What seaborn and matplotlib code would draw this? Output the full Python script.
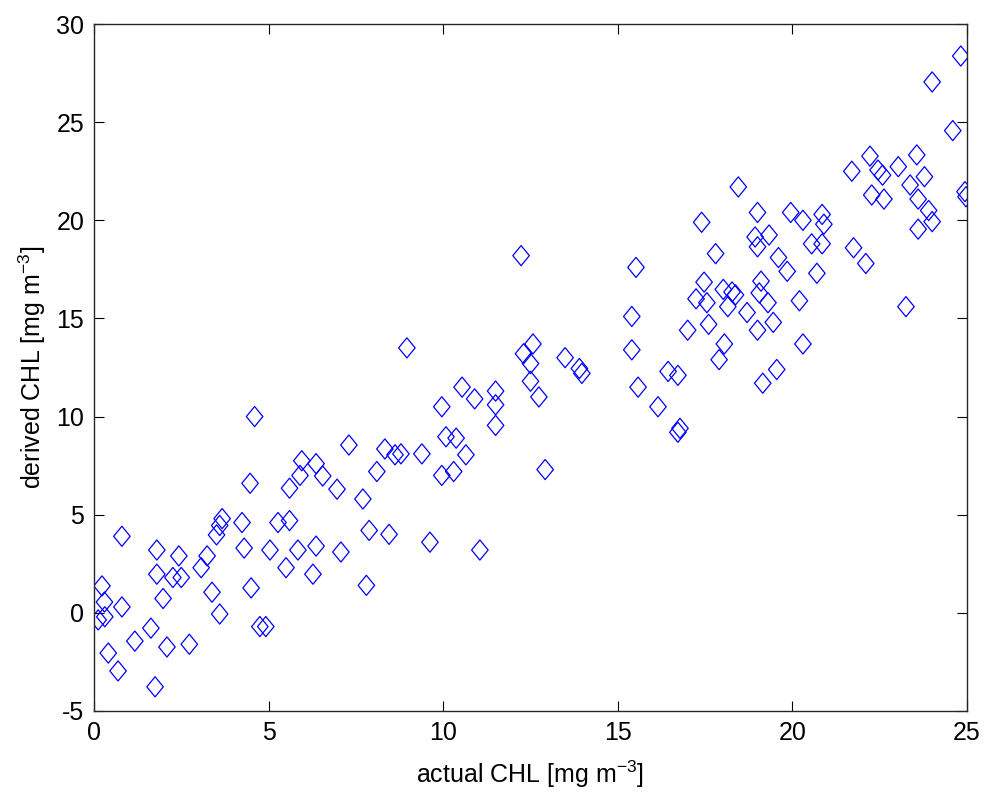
import matplotlib
matplotlib.use("Agg")
import matplotlib.pyplot as plt
import seaborn as sns
import pandas as pd
from matplotlib.path import Path

actual_chl = [
    0.12, 0.23, 0.30, 0.31, 0.41, 0.69, 0.80, 0.80, 1.17, 1.63, 1.75, 1.80, 1.80, 1.98, 2.09, 2.26,
    2.43, 2.50, 2.73, 3.07, 3.24, 3.38, 3.51, 3.60, 3.67, 3.60, 4.24, 4.30, 4.47, 4.50, 4.60, 4.75, 4.92,
    5.04, 5.27, 5.50, 5.60, 5.60, 5.84, 5.90, 5.95, 6.27, 6.36, 6.36, 6.55, 6.96, 7.07, 7.30, 7.70,
    7.80, 7.88, 8.10, 8.33, 8.45, 8.62, 8.79, 8.96, 9.39, 9.62, 9.96, 9.96,
    10.08, 10.30, 10.37, 10.54, 10.65, 10.90, 11.05, 11.50, 11.50, 11.50, 12.23, 12.30, 12.57, 12.50,
    12.50, 12.74, 12.92, 13.49, 13.90, 13.97,
    15.40, 15.40, 15.52, 15.58, 16.15, 16.44, 16.72, 16.78, 16.72, 17.00, 17.24, 17.40, 17.47, 17.55,
    17.60, 17.80, 17.90,
    18.02, 18.27, 18.37, 18.05, 18.15, 18.45, 18.70, 18.93, 19.00, 19.00, 19.00, 19.05, 19.10, 19.15,
    19.33, 19.30, 19.45, 19.55, 19.60, 19.85, 19.95, 20.20, 20.30, 20.30, 20.55, 20.70, 20.85, 20.85,
    20.90, 21.70, 21.75, 22.10, 23.25,
    22.22, 22.45, 22.58, 23.03, 23.56, 23.78, 23.37, 22.27, 22.62, 23.60, 23.90, 24.00, 23.60, 24.00,
    24.59, 24.82, 24.94, 24.97,
]
derived_chl = [
    -0.36, 1.37, 0.55, -0.20, -2.05, -2.96, 3.90, 0.30, -1.44, -0.78, -3.77, 3.20, 1.97, 0.73, -1.74, 1.80,
    2.90, 1.80, -1.60, 2.30, 2.90, 1.05, 3.97, 4.45, 4.80, -0.06, 4.60, 3.30, 6.60, 1.27, 10.00, -0.70, -0.70,
    3.20, 4.60, 2.30, 4.70, 6.35, 3.20, 7.00, 7.75, 1.97, 3.40, 7.60, 6.97, 6.30, 3.10, 8.55, 5.80,
    1.40, 4.20, 7.20, 8.35, 4.00, 8.05, 8.10, 13.50, 8.10, 3.60, 7.00, 10.50,
    8.97, 7.20, 8.90, 11.50, 8.05, 10.90, 3.20, 11.30, 10.60, 9.55, 18.20, 13.20, 13.70, 12.70,
    11.80, 11.00, 7.30, 13.00, 12.45, 12.20,
    15.10, 13.40, 17.60, 11.50, 10.50, 12.30, 12.10, 9.40, 9.20, 14.40, 16.00, 19.90, 16.85, 15.80,
    14.70, 18.30, 12.90,
    16.48, 16.35, 16.20, 13.70, 15.60, 21.70, 15.30, 19.15, 20.40, 18.65, 14.40, 16.30, 16.90, 11.70,
    19.25, 15.80, 14.80, 12.40, 18.10, 17.40, 20.40, 15.90, 20.00, 13.70, 18.80, 17.30, 20.30, 18.80,
    19.80, 22.50, 18.60, 17.80, 15.60,
    23.27, 22.56, 22.30, 22.73, 23.33, 22.22, 21.80, 21.29, 21.08, 21.08, 20.50, 19.93, 19.55, 27.05,
    24.57, 28.37, 21.46, 21.20,
]

x_ticks = [0, 5, 10, 15, 20, 25]
y_ticks = [-5, 0, 5, 10, 15, 20, 25, 30]

df = pd.DataFrame({"actual": actual_chl, "derived": derived_chl})

sns.set_theme(style="ticks")
plt.rcParams["font.family"] = ["Liberation Sans", "DejaVu Sans"]
plt.rcParams["mathtext.default"] = "regular"

fig = plt.figure(figsize=(9.87, 8.01), dpi=100)
ax = fig.add_axes([0.0952, 0.1124, 0.8846, 0.8576])

diamond = Path([(0, 1), (0.82, 0), (0, -1), (-0.82, 0), (0, 1)],
               [Path.MOVETO, Path.LINETO, Path.LINETO, Path.LINETO, Path.CLOSEPOLY])

sns.scatterplot(data=df, x="actual", y="derived", ax=ax, marker=diamond, s=210,
                facecolors="none", edgecolor="#0000FF", linewidth=0.9, legend=False)

ax.set_xlim(0, 25)
ax.set_ylim(-5, 30)
ax.set_xticks(x_ticks)
ax.set_yticks(y_ticks)
ax.set_xticklabels([str(t) for t in x_ticks])
ax.set_yticklabels([str(t) for t in y_ticks])
ax.tick_params(direction="in", length=7, width=0.8, top=True, right=True,
               labelsize=18, colors="black", pad=7)
for sp in ax.spines.values():
    sp.set_visible(True)
    sp.set_linewidth(1.0)
    sp.set_color("#262626")

ax.set_xlabel(r"actual CHL [mg m$^{-3}$]", fontsize=18, labelpad=10, color="black")
ax.set_ylabel(r"derived CHL [mg m$^{-3}$]", fontsize=18, labelpad=6, color="black")

fig.savefig("out.png", dpi=100, facecolor="white")
